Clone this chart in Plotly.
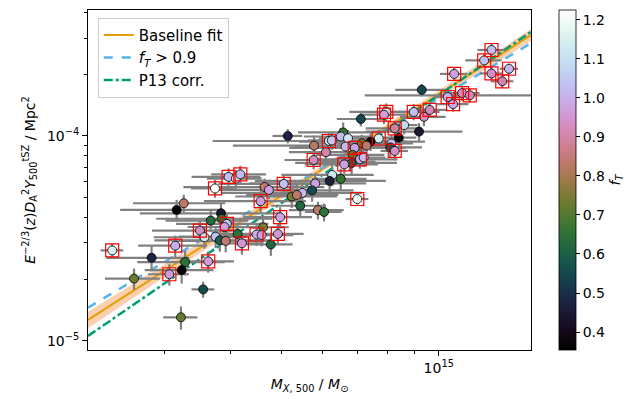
import numpy as np
import plotly.graph_objects as go

# ---------------- data ----------------
mass_1e14 = [12.61, 12.21, 10.70, 13.62, 12.61, 13.22, 11.08, 11.46, 10.40, 10.65,
             9.28, 8.96, 9.61, 9.37, 7.94, 7.86, 7.10, 8.59, 8.24, 9.17,
             8.39, 7.68, 7.41, 8.12, 8.08, 8.24, 7.13, 7.28, 6.57, 6.50,
             6.71, 6.17, 6.25, 6.64, 6.91, 6.85, 6.76, 7.07, 7.19, 6.82,
             6.60, 5.78, 6.09, 5.77, 5.15, 6.26, 6.19, 6.50, 5.81, 5.49,
             5.73, 5.24, 5.36, 5.44, 5.88, 6.04, 6.99, 5.06, 4.65, 4.74,
             3.74, 3.97, 4.10, 4.18, 4.57, 4.98, 3.16, 3.26, 3.84, 3.67,
             3.85, 3.94, 3.90, 3.50, 3.57, 3.75, 3.82, 3.92, 4.13, 4.21,
             4.62, 4.49, 4.59, 4.93, 4.78, 2.38, 3.14, 2.83, 3.28, 3.63,
             3.23, 3.06, 2.62, 3.55, 3.22]

ysz_1e5 = [26.3, 23.4, 20.1, 21.3, 20.2, 18.5, 16.2, 15.8, 15.5, 14.3,
           16.8, 13.1, 13.4, 12.4, 13.1, 12.7, 12.1, 11.3, 10.9, 10.5,
           9.81, 9.72, 9.38, 9.19, 8.79, 8.45, 9.21, 8.97, 10.4, 9.94,
           9.74, 9.45, 9.51, 8.87, 8.74, 8.08, 7.49, 7.69, 7.85, 7.38,
           7.26, 8.97, 8.33, 7.63, 10.0, 6.45, 6.03, 6.17, 5.86, 5.27,
           5.42, 5.06, 5.15, 4.56, 4.34, 4.25, 4.92, 5.83, 5.63, 5.45,
           5.54, 6.31, 6.19, 6.49, 4.80, 4.01, 4.35, 4.69, 4.19, 3.86,
           3.94, 3.72, 3.59, 3.45, 3.20, 3.22, 3.09, 3.07, 3.32, 2.99,
           3.58, 3.30, 3.28, 3.32, 2.95, 2.76, 2.91, 2.54, 2.42, 2.44,
           2.21, 2.11, 2.01, 1.78, 1.30]

mass_err_frac = [0.06, 0.08, 0.06, 0.04, 0.05, 0.05, 0.08, 0.37, 0.06, 0.07,
                 0.11, 0.12, 0.08, 0.10, 0.15, 0.10, 0.10, 0.06, 0.12, 0.21,
                 0.08, 0.10, 0.27, 0.10, 0.15, 0.06, 0.20, 0.12, 0.18, 0.15,
                 0.12, 0.40, 0.10, 0.20, 0.25, 0.15, 0.12, 0.18, 0.10, 0.22,
                 0.16, 0.30, 0.15, 0.12, 0.065, 0.20, 0.28, 0.12, 0.25, 0.30,
                 0.20, 0.22, 0.20, 0.12, 0.12, 0.08, 0.05, 0.25, 0.30, 0.20,
                 0.10, 0.15, 0.12, 0.12, 0.22, 0.15, 0.22, 0.20, 0.30, 0.18,
                 0.25, 0.20, 0.15, 0.19, 0.20, 0.15, 0.25, 0.20, 0.10, 0.10,
                 0.12, 0.15, 0.15, 0.12, 0.10, 0.05, 0.15, 0.18, 0.19, 0.12,
                 0.15, 0.09, 0.12, 0.05, 0.075]

ysz_err_frac = [0.07, 0.07, 0.07, 0.06, 0.07, 0.07, 0.08, 0.08, 0.08, 0.08,
                0.07, 0.09, 0.08, 0.10, 0.10, 0.10, 0.08, 0.10, 0.09, 0.10,
                0.10, 0.10, 0.10, 0.10, 0.10, 0.10, 0.10, 0.10, 0.12, 0.10,
                0.10, 0.10, 0.10, 0.10, 0.10, 0.10, 0.10, 0.10, 0.10, 0.12,
                0.10, 0.12, 0.10, 0.10, 0.08, 0.12, 0.12, 0.12, 0.12, 0.12,
                0.12, 0.12, 0.12, 0.12, 0.10, 0.10, 0.06, 0.10, 0.10, 0.10,
                0.10, 0.10, 0.10, 0.10, 0.12, 0.12, 0.12, 0.10, 0.12, 0.12,
                0.12, 0.12, 0.12, 0.12, 0.12, 0.12, 0.12, 0.12, 0.12, 0.12,
                0.12, 0.12, 0.12, 0.12, 0.12, 0.08, 0.12, 0.14, 0.14, 0.12,
                0.14, 0.12, 0.12, 0.09, 0.13]

f_T = [1.03, 1.03, 0.97, 1.02, 0.93, 0.90, 0.92, 0.92, 1.00, 0.98,
       0.55, 1.03, 0.92, 0.93, 1.12, 0.97, 0.55, 1.08, 0.88, 0.45,
       0.37, 1.15, 0.36, 1.03, 0.57, 0.93, 0.73, 0.83, 0.66, 1.02,
       1.12, 1.12, 1.05, 1.02, 0.97, 0.72, 0.90, 0.97, 1.03, 0.60,
       0.97, 0.83, 0.90, 0.92, 0.48, 1.12, 0.47, 0.66, 0.97, 1.02,
       0.56, 0.74, 0.83, 0.62, 0.83, 0.65, 1.20, 1.03, 0.84, 0.97,
       1.22, 1.03, 1.12, 1.02, 0.96, 0.97, 0.36, 0.83, 0.45, 0.63,
       0.65, 1.03, 0.98, 0.93, 1.12, 1.03, 0.60, 0.84, 0.65, 0.95,
       0.74, 1.00, 0.96, 0.95, 0.62, 1.15, 1.00, 0.48, 0.65, 0.96,
       0.37, 0.96, 0.73, 0.56, 0.72]

flagged = [1, 1, 1, 1, 1, 1, 1, 1, 1, 1,
           0, 1, 1, 0, 1, 1, 0, 0, 1, 0,
           0, 1, 0, 0, 0, 1, 0, 0, 0, 0,
           0, 1, 0, 0, 1, 0, 0, 1, 0, 0,
           1, 0, 0, 1, 0, 0, 0, 0, 0, 0,
           0, 0, 0, 0, 0, 0, 1, 1, 0, 0,
           1, 1, 0, 1, 1, 1, 0, 0, 0, 0,
           0, 1, 0, 1, 0, 0, 0, 0, 0, 1,
           0, 1, 0, 1, 0, 1, 1, 0, 0, 1,
           0, 1, 0, 0, 0]

# fit lines read at the axis edges (M in Msun, Y in Mpc^2)
line_mass = [2.14e14, 1.5e15]
baseline_y = [1.262e-5, 3.115e-4]
ft09_y = [1.449e-5, 2.84e-4]
p13_y = [1.054e-5, 3.23e-4]

band_mass = [2.14e14, 4.0e14, 7.0e14, 1.0e15, 1.5e15]
band_lo = [1.149e-5, 3.36e-5, 8.70e-5, 1.534e-4, 2.91e-4]
band_hi = [1.385e-5, 3.73e-5, 9.20e-5, 1.669e-4, 3.33e-4]

cbar_ticks = [0.4, 0.5, 0.6, 0.7, 0.8, 0.9, 1.0, 1.1, 1.2]

# ---------------- colormap (matplotlib "cubehelix") ----------------
def cubehelix_scale(n=32, gamma=1.0, s=0.5, r=-1.5, h=1.0):
    out = []
    for i in range(n):
        x = i / (n - 1)
        xg = x ** gamma
        a = h * xg * (1 - xg) / 2
        phi = 2 * np.pi * (s / 3 + r * x)
        R = xg + a * (-0.14861 * np.cos(phi) + 1.78277 * np.sin(phi))
        G = xg + a * (-0.29227 * np.cos(phi) - 0.90649 * np.sin(phi))
        B = xg + a * (1.97294 * np.cos(phi))
        rgb = [int(round(255 * min(max(c, 0), 1))) for c in (R, G, B)]
        out.append([x, f"rgb({rgb[0]},{rgb[1]},{rgb[2]})"])
    return out

FONT = "DejaVu Sans"
M = np.array(mass_1e14) * 1e14
Y = np.array(ysz_1e5) * 1e-5
Mx = M * np.array(mass_err_frac)
Ye = Y * np.array(ysz_err_frac)
flag = np.array(flagged, dtype=bool)

fig = go.Figure()

# uncertainty band of the baseline fit
fig.add_trace(go.Scatter(
    x=band_mass + band_mass[::-1], y=band_hi + band_lo[::-1],
    fill="toself", fillcolor="rgba(245,150,80,0.45)", line=dict(width=0),
    mode="lines", hoverinfo="skip", showlegend=False))

fig.add_trace(go.Scatter(x=line_mass, y=baseline_y, mode="lines",
                         line=dict(color="#E69F00", width=2), name="Baseline fit"))
fig.add_trace(go.Scatter(x=line_mass, y=ft09_y, mode="lines",
                         line=dict(color="#56B4E9", width=2.5, dash="dash"),
                         name="<i>f<sub>T</sub></i> > 0.9"))
fig.add_trace(go.Scatter(x=line_mass, y=p13_y, mode="lines",
                         line=dict(color="#009E73", width=2.5, dash="dashdot"),
                         name="P13 corr."))

# data points
fig.add_trace(go.Scatter(
    x=M, y=Y, mode="markers", showlegend=False,
    error_x=dict(type="data", array=Mx, arrayminus=Mx, color="#808080",
                 thickness=2.2, width=0),
    error_y=dict(type="data", array=Ye, arrayminus=Ye, color="#808080",
                 thickness=2.2, width=0),
    marker=dict(size=9, color=f_T, colorscale=cubehelix_scale(),
                cmin=0.354, cmax=1.225, line=dict(color="black", width=0.8),
                colorbar=dict(x=1.063, xanchor="left", y=0.5, yanchor="middle",
                              len=1, lenmode="fraction", thickness=17,
                              xpad=0, ypad=0,
                              outlinewidth=0.8, outlinecolor="black",
                              ticks="outside", ticklen=4, tickcolor="black",
                              tickvals=cbar_ticks,
                              ticktext=[f"{t:.1f}" for t in cbar_ticks],
                              tickfont=dict(family=FONT, size=14, color="black"),
                              title=dict(text="<i>f<sub>T</sub></i>", side="right",
                                         font=dict(family=FONT, size=14, color="black"))))))

# flagged points (red squares)
fig.add_trace(go.Scatter(
    x=M[flag], y=Y[flag], mode="markers", showlegend=False, hoverinfo="skip",
    marker=dict(symbol="square-open", size=13, color="red", line=dict(width=1.2, color="red"))))

x_minor = [3e14, 4e14, 5e14, 6e14, 7e14, 8e14, 9e14]
y_minor = [2e-5, 3e-5, 4e-5, 5e-5, 6e-5, 7e-5, 8e-5, 9e-5, 2e-4, 3e-4, 4e-4]

# the page body adds an 8 px offset, so the figure is sized/margined to compensate
fig.update_layout(
    width=627, height=391,
    margin=dict(l=80, r=104, t=2, b=49, autoexpand=False),
    paper_bgcolor="white", plot_bgcolor="white",
    font=dict(family=FONT, size=14, color="black"),
    legend=dict(x=0.022, y=0.977, xanchor="left", yanchor="top",
                bgcolor="rgba(255,255,255,0.85)", bordercolor="#cccccc", borderwidth=1,
                font=dict(family=FONT, size=15), tracegroupgap=0),
    xaxis=dict(type="log", range=[np.log10(2.14e14), np.log10(1.5e15)],
               tickvals=[1e15], ticktext=["10<sup>15</sup>"],
               ticks="outside", ticklen=5, tickcolor="black",
               minor=dict(tickvals=x_minor, ticks="outside", ticklen=3, tickcolor="black"),
               showline=True, linecolor="black", linewidth=1, mirror=True,
               showgrid=False, zeroline=False, automargin=False,
               title=dict(text="<i>M</i><sub><i>X</i>, 500</sub> / <i>M</i><sub>⊙</sub>",
                          standoff=4, font=dict(size=14))),
    yaxis=dict(type="log", range=[np.log10(9.0e-6), np.log10(4.125e-4)],
               tickvals=[1e-5, 1e-4], ticktext=["10<sup>−5</sup>", "10<sup>−4</sup>"],
               ticks="outside", ticklen=5, tickcolor="black",
               minor=dict(tickvals=y_minor, ticks="outside", ticklen=3, tickcolor="black"),
               showline=True, linecolor="black", linewidth=1, mirror=True,
               showgrid=False, zeroline=False, automargin=False,
               title=dict(text="<i>E</i><sup>−2/3</sup>(<i>z</i>)<i>D</i><sub>A</sub><sup>2</sup>"
                               "<i>Y</i><sub>500</sub><sup>tSZ</sup> / Mpc<sup>2</sup>",
                          standoff=8, font=dict(size=14))),
)

fig.write_html("out.html")
